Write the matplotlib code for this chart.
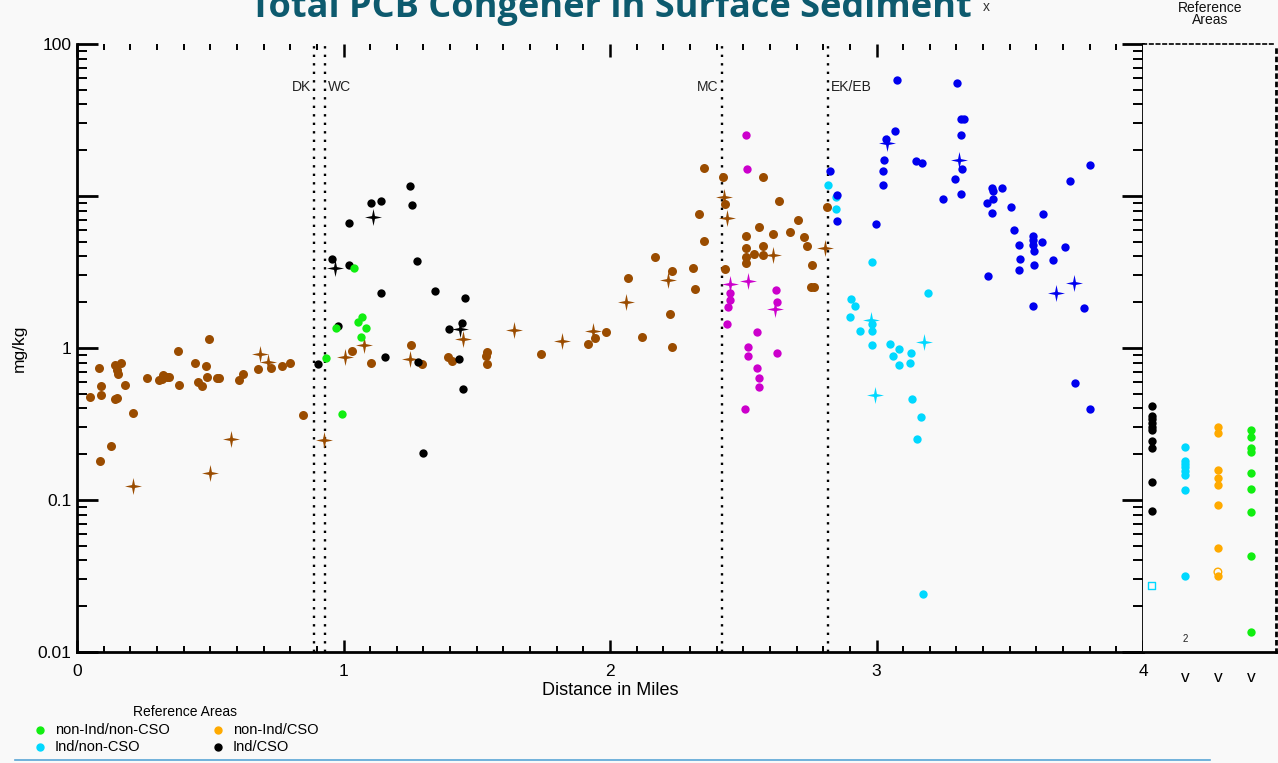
import numpy as np
import matplotlib
matplotlib.use("Agg")
import matplotlib.pyplot as plt
from matplotlib.path import Path
from matplotlib.lines import Line2D
from matplotlib.ticker import LogLocator, MultipleLocator, NullFormatter

plt.rcParams["font.family"] = ["Liberation Sans", "DejaVu Sans"]

BG = "#f9f9f9"
BROWN = "#9a4c00"
GREEN = "#11ee11"
MAGENTA = "#cc00cc"
CYAN = "#00d8ff"
BLUE = "#0000ee"
ORANGE = "#ffaa00"

# ---- main transect data (distance in miles, total PCB mg/kg) ----
brown_x = [0.049, 0.083, 0.090, 0.091, 0.086, 0.128, 0.143, 0.165, 0.149, 0.153, 0.144, 0.150,
           0.181, 0.209, 0.261, 0.309, 0.324, 0.337, 0.345, 0.318, 0.378, 0.383, 0.443, 0.453,
           0.470, 0.484, 0.488, 0.495, 0.527, 0.533, 0.609, 0.622, 0.678, 0.729, 0.770, 0.799,
           0.847, 1.031, 1.102, 1.253, 1.295, 1.393, 1.407, 1.540, 1.535, 1.540, 1.741, 1.917,
           1.945, 1.984, 2.066, 2.120, 2.169, 2.226, 2.233, 2.231, 2.313, 2.319, 2.353, 2.333,
           2.354, 2.423, 2.430, 2.433, 2.575, 2.634, 2.509, 2.509, 2.509, 2.509, 2.540, 2.559,
           2.573, 2.573, 2.610, 2.675, 2.705, 2.727, 2.740, 2.757, 2.754, 2.767, 2.814]
brown_y = [0.478, 0.742, 0.562, 0.489, 0.180, 0.228, 0.773, 0.797, 0.717, 0.675, 0.464, 0.470,
           0.571, 0.375, 0.638, 0.616, 0.664, 0.648, 0.648, 0.625, 0.956, 0.569, 0.793, 0.600,
           0.562, 0.758, 0.641, 1.14, 0.638, 0.638, 0.613, 0.678, 0.731, 0.739, 0.761, 0.793,
           0.362, 0.956, 0.797, 1.04, 0.781, 0.877, 0.825, 0.945, 0.886, 0.789, 0.913, 1.06,
           1.16, 1.27, 2.87, 1.18, 3.97, 1.68, 3.21, 1.015, 3.35, 2.44, 5.08, 7.57,
           15.2, 13.3, 8.81, 3.32, 13.4, 9.31, 5.46, 4.53, 3.99, 3.64, 4.13, 6.25,
           4.71, 4.09, 5.65, 5.77, 6.95, 5.35, 4.71, 3.53, 2.51, 2.51, 8.47]
brown_star_x = [0.209, 0.498, 0.578, 0.688, 0.716, 0.927, 1.006, 1.078, 1.250, 1.448, 1.641,
                1.820, 1.937, 2.059, 2.218, 2.428, 2.438, 2.610, 2.808]
brown_star_y = [0.124, 0.151, 0.251, 0.908, 0.813, 0.248, 0.868, 1.05, 0.847, 1.15, 1.31,
                1.11, 1.30, 2.00, 2.79, 9.85, 7.13, 4.07, 4.53]

black_x = [0.903, 0.978, 1.250, 1.104, 1.141, 1.256, 1.021, 0.957, 1.019, 1.275, 1.142, 1.345,
           1.455, 1.443, 1.397, 1.155, 1.280, 1.435, 1.450, 1.300]
black_y = [0.781, 1.40, 11.6, 9.0, 9.31, 8.77, 6.64, 3.87, 3.50, 3.72, 2.29, 2.37,
           2.14, 1.47, 1.33, 0.869, 0.809, 0.851, 0.537, 0.204]
black_star_x = [1.110, 0.969, 1.438]
black_star_y = [7.24, 3.38, 1.34]

green_x = [0.933, 0.996, 0.971, 1.039, 1.068, 1.053, 1.084, 1.065]
green_y = [0.855, 0.366, 1.35, 3.38, 1.61, 1.48, 1.35, 1.19]

magenta_x = [2.509, 2.513, 2.450, 2.450, 2.444, 2.439, 2.624, 2.628, 2.550, 2.517, 2.519,
             2.627, 2.552, 2.559, 2.560, 2.508]
magenta_y = [25.3, 15.0, 2.29, 2.07, 1.87, 1.44, 2.42, 2.00, 1.28, 1.01, 0.886,
             0.931, 0.742, 0.638, 0.554, 0.399]
magenta_star_x = [2.450, 2.519, 2.619]
magenta_star_y = [2.62, 2.76, 1.81]

cyan_x = [2.819, 2.847, 2.847, 2.984, 2.904, 2.918, 2.901, 2.938, 2.983, 2.983, 2.984, 3.193,
          3.052, 3.083, 3.063, 3.086, 3.129, 3.125, 3.132, 3.168, 3.151, 3.176]
cyan_y = [11.8, 9.89, 8.17, 3.66, 2.10, 1.89, 1.61, 1.29, 1.44, 1.30, 1.05, 2.30,
          1.06, 0.98, 0.886, 0.777, 0.931, 0.793, 0.464, 0.353, 0.253, 0.0242]
cyan_star_x = [2.978, 2.995, 3.177]
cyan_star_y = [1.53, 0.489, 1.09]

blue_x = [2.824, 2.852, 2.852, 2.997, 3.078, 3.303, 3.317, 3.330, 3.316, 3.071, 3.037, 3.028,
          3.026, 3.026, 3.148, 3.169, 3.322, 3.296, 3.316, 3.250, 3.434, 3.438, 3.471, 3.416,
          3.438, 3.434, 3.506, 3.624, 3.516, 3.533, 3.537, 3.536, 3.588, 3.588, 3.588, 3.591,
          3.591, 3.622, 3.661, 3.709, 3.726, 3.802, 3.418, 3.588, 3.777, 3.744, 3.800]
blue_y = [14.5, 10.1, 6.88, 6.54, 57.7, 55.1, 32.3, 32.3, 25.3, 26.9, 23.7, 17.3,
          14.5, 11.9, 17.1, 16.6, 15.1, 12.9, 10.3, 9.51, 11.3, 10.8, 11.3, 8.95,
          9.51, 7.77, 8.42, 7.57, 6.00, 4.76, 3.87, 3.27, 5.48, 5.14, 4.76, 4.37,
          3.50, 4.96, 3.78, 4.59, 12.5, 16.1, 2.99, 1.89, 1.82, 0.591, 0.399]
blue_star_x = [3.040, 3.311, 3.672, 3.741]
blue_star_y = [22.2, 17.3, 2.31, 2.66]

# reaches marked by dotted lines
reach_names = ["DK", "WC", "MC", "EK/EB"]
reach_miles = [0.889, 0.931, 2.420, 2.818]
reach_side = ["left", "right", "left", "right"]

# ---- reference areas ----
ref_labels = ["non-Ind/non-CSO", "Ind/non-CSO", "non-Ind/CSO", "Ind/CSO"]
ref_colors = [GREEN, CYAN, ORANGE, "black"]
ref_ind_cso = [0.417, 0.359, 0.340, 0.323, 0.304, 0.289, 0.244, 0.221, 0.131, 0.0841]
ref_ind_noncso = [0.224, 0.181, 0.172, 0.164, 0.156, 0.147, 0.116, 0.0318]
ref_nonind_cso = [0.304, 0.277, 0.157, 0.140, 0.126, 0.0928, 0.0486, 0.0318]
ref_nonind_noncso = [0.289, 0.260, 0.219, 0.208, 0.151, 0.118, 0.0834, 0.0428, 0.0135]
ref_open_square = 0.0275   # hollow cyan square in Ind/CSO column
ref_open_circle = 0.0336   # hollow orange circle in non-Ind/CSO column

# four-pointed star marker
star = Path([(0, 1), (0.17, 0.17), (1, 0), (0.17, -0.17), (0, -1), (-0.17, -0.17),
             (-1, 0), (-0.17, 0.17), (0, 1)],
            [Path.MOVETO] + [Path.LINETO] * 7 + [Path.CLOSEPOLY])

W, H = 1278, 763
fig = plt.figure(figsize=(W / 100, H / 100), dpi=100, facecolor=BG)
L, R, T, B = 77, 1143, 44, 652
ax = fig.add_axes([L / W, 1 - B / H, (R - L) / W, (B - T) / H], facecolor=BG)
axr = fig.add_axes([R / W, 1 - B / H, (1276 - R) / W, (B - T) / H], facecolor=BG)

ax.set_yscale("log")
ax.set_ylim(0.01, 100)
ax.set_xlim(0, 4)

for xv, nm, side in zip(reach_miles, reach_names, reach_side):
    ax.axvline(xv, color="black", ls=(0, (1, 2.6)), lw=1.7, zorder=1)
    off = -0.012 if side == "left" else 0.012
    ax.text(xv + off, 52, nm, ha="right" if side == "left" else "left", va="center",
            fontsize=10, color="#222222")

cs, ss = 36, 150
ax.scatter(brown_x, brown_y, s=cs + 6, color=BROWN, lw=0, zorder=3)
ax.scatter(brown_star_x, brown_star_y, s=ss, marker=star, color=BROWN, lw=0, zorder=3)
ax.scatter(black_x, black_y, s=cs, color="black", lw=0, zorder=3)
ax.scatter(black_star_x, black_star_y, s=ss, marker=star, color="black", lw=0, zorder=3)
ax.scatter(green_x, green_y, s=cs, color=GREEN, lw=0, zorder=4)
ax.scatter(magenta_x, magenta_y, s=cs, color=MAGENTA, lw=0, zorder=3)
ax.scatter(magenta_star_x, magenta_star_y, s=ss, marker=star, color=MAGENTA, lw=0, zorder=3)
ax.scatter(cyan_x, cyan_y, s=cs, color=CYAN, lw=0, zorder=3)
ax.scatter(cyan_star_x, cyan_star_y, s=ss, marker=star, color=CYAN, lw=0, zorder=3)
ax.scatter(blue_x, blue_y, s=cs, color=BLUE, lw=0, zorder=3)
ax.scatter(blue_star_x, blue_star_y, s=ss, marker=star, color=BLUE, lw=0, zorder=3)

# axes styling
ax.set_yticks([0.01, 0.1, 1, 10, 100])
ax.set_yticklabels(["0.01", "0.1", "1", "", "100"])
ax.yaxis.set_minor_locator(LogLocator(base=10, subs=np.arange(2, 10)))
ax.yaxis.set_minor_formatter(NullFormatter())
ax.tick_params(axis="y", which="major", direction="in", left=True, right=True,
               length=15, width=2, labelsize=12.5, pad=4)
ax.tick_params(axis="y", which="minor", direction="in", left=True, right=True,
               length=7, width=1.4)
ax.set_xticks([0, 1, 2, 3, 4])
ax.xaxis.set_minor_locator(MultipleLocator(0.1))
ax.tick_params(axis="x", which="major", direction="in", top=True, bottom=True,
               length=9, width=1.8, labelsize=12.5, pad=9)
ax.tick_params(axis="x", which="minor", direction="in", top=True, bottom=True,
               length=4, width=1.4)
ax.spines["top"].set_visible(False)
for sp in ["left", "right", "bottom"]:
    ax.spines[sp].set_linewidth(2)
ax.set_xlabel("Distance in Miles", fontsize=13, labelpad=2)
ax.set_ylabel("mg/kg", fontsize=12.5, labelpad=8)

# reference panel
axr.set_yscale("log")
axr.set_ylim(0.01, 100)
axr.set_xlim(-0.27, 3.76)
ref_cols = [ref_ind_cso, ref_ind_noncso, ref_nonind_cso, ref_nonind_noncso]
ref_col_colors = ["black", CYAN, ORANGE, GREEN]
for i, (vals, c) in enumerate(zip(ref_cols, ref_col_colors)):
    axr.scatter([i] * len(vals), vals, s=cs, color=c, lw=0, zorder=3)
axr.scatter([0], [ref_open_square], s=26, marker="s", facecolor="none",
            edgecolor=CYAN, lw=1, zorder=3)
axr.scatter([2], [ref_open_circle], s=30, facecolor="none", edgecolor=ORANGE, lw=1, zorder=3)
axr.text(1, 0.0122, "2", ha="center", va="center", fontsize=7, color="#222222")
axr.set_yticks([])
axr.yaxis.set_minor_locator(plt.NullLocator())
axr.set_xticks([1, 2, 3])
axr.set_xticklabels(["v", "v", "v"])
axr.tick_params(axis="x", length=0, labelsize=12.5, pad=13)
axr.spines["left"].set_visible(False)
axr.spines["bottom"].set_linewidth(2)
axr.spines["top"].set_linestyle((0, (2, 2)))
axr.spines["top"].set_linewidth(1.2)
axr.spines["right"].set_linestyle((0, (1, 2)))
axr.spines["right"].set_linewidth(2)

# titles (the reference crops the title at the top edge)
fig.text(611 / W, 1 - 17 / H, "Total PCB Congener in Surface Sediment", ha="center",
         va="baseline", fontsize=26, fontweight="bold", family="Open Sans", color="#0d5a6e")
fig.text(986 / W, 1 - 7 / H, "x", ha="center", va="center", fontsize=10, color="#333333")
fig.text(1210 / W, 1 - 14 / H, "Reference\nAreas", ha="center", va="center", fontsize=10,
         linespacing=0.85, color="#111111")

# legend for reference areas
fig.text(185 / W, 1 - 712 / H, "Reference Areas", ha="center", va="center", fontsize=10)
leg_pos = [(40, 730), (40, 747), (218, 730), (218, 747)]
for (px, py), lab, c in zip(leg_pos, ref_labels, ref_colors):
    fig.add_artist(Line2D([px / W], [1 - py / H], marker="o", ms=5, color=c, lw=0,
                          transform=fig.transFigure))
    fig.text((px + 15) / W, 1 - py / H, lab, ha="left", va="center", fontsize=10.5)

fig.add_artist(Line2D([15 / W, 1210 / W], [1 - 760 / H, 1 - 760 / H], color="#5aa5d5",
                      lw=1.2, transform=fig.transFigure))

fig.savefig("out.png", dpi=100, facecolor=BG)
